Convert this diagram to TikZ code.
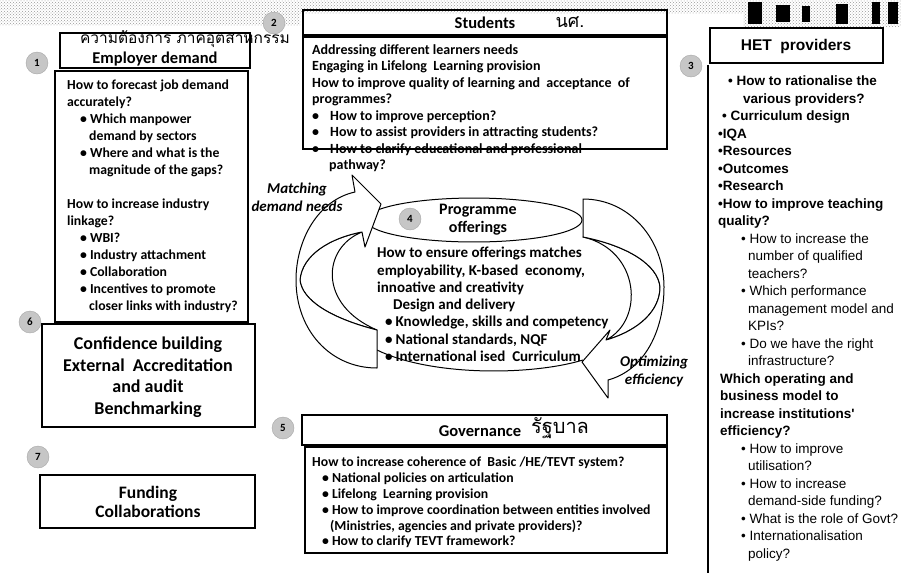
\documentclass[tikz,border=0pt]{standalone}
\usepackage{fontspec}
\setmainfont{Carlito}
\newfontfamily\hetfont{Liberation Sans}
\newfontfamily\thaifont[Script=Thai]{Loma}
\usetikzlibrary{patterns,shapes.geometric}

\tikzset{
  box/.style={draw, line width=1.1pt},
  hdr/.style={inner sep=0pt, font=\bfseries\fontsize{16.5}{18}\selectfont},
  txt/.style={anchor=north west, align=left, inner sep=0pt,
    font=\bfseries\fontsize{13.75}{17}\selectfont},
  hand/.style={inner sep=0pt, font=\thaifont\fontsize{18}{18}\selectfont},
  numc/.style={circle, draw=gray!70, fill=gray!45, minimum size=22pt, inner sep=0pt,
    font=\bfseries\fontsize{11}{11}\selectfont},
  bigtxt/.style={align=center, inner sep=0pt, font=\bfseries\fontsize{18}{21.5}\selectfont},
  cyc/.style={draw, line width=1pt, fill=white, line join=round},
  cyclbl/.style={align=center, inner sep=0pt, font=\bfseries\itshape\fontsize{15}{18}\selectfont},
}

\begin{document}
\begin{tikzpicture}[x=1pt,y=-1pt]
  \def\bl{\textbullet\hspace{3pt}}
  \useasboundingbox (0,0) rectangle (901,574);

  % scan noise on the top edge
  \fill[pattern=crosshatch dots, pattern color=gray!80] (0,0) rectangle (743,13);
  \fill[pattern=crosshatch dots, pattern color=gray!80] (0,13) rectangle (300,25);
  \fill[pattern=crosshatch dots, pattern color=gray!80] (743,0) rectangle (901,26);
  \fill (748,2) rectangle (762,24);
  \fill (776,5) rectangle (790,22);
  \fill (802,6) rectangle (810,22);
  \fill (836,4) rectangle (848,24);
  \fill (872,2) rectangle (880,24);
  \fill (888,2) rectangle (898,24);

  % Employer demand
  \draw[box] (60,33) rectangle (250,68);
  \draw[box] (55,71) rectangle (248,322);
  \node[hand, font=\thaifont\fontsize{15.5}{16}\selectfont] (empthai) at (185,39) {ความต้องการ ภาคอุตสาหกรรม};
  \node[hdr] (emphdr) at (155,59) {Employer demand};
  \node[txt] (emptxt) at (67,80) {How to forecast job demand\\
    accurately?\\
    \hspace*{13pt}\bl Which manpower\\
    \hspace*{22pt}demand by sectors\\
    \hspace*{13pt}\bl Where and what is the\\
    \hspace*{22pt}magnitude of the gaps?\\[17pt]
    How to increase industry\\
    linkage?\\
    \hspace*{13pt}\bl WBI?\\
    \hspace*{13pt}\bl Industry attachment\\
    \hspace*{13pt}\bl Collaboration\\
    \hspace*{13pt}\bl Incentives to promote\\
    \hspace*{22pt}closer links with industry?};

  % Confidence building, Funding
  \draw[box] (42,324) rectangle (255,427);
  \node[bigtxt] (conf) at (148,377) {Confidence building\\External\ \ Accreditation\\and audit\\Benchmarking};
  \draw[box] (40,475) rectangle (255,528);
  \node[bigtxt, font=\bfseries\fontsize{17.5}{19}\selectfont] (fund) at (148,502) {Funding\\Collaborations};

  % Students
  \draw[box] (303,10) rectangle (667,35);
  \draw[box] (303,37) rectangle (667,149);
  \node[hdr] (stuhdr) at (485,23) {Students};
  \node[hand] (stuthai) at (570,22) {นศ.};
  \node[txt, font=\bfseries\fontsize{14}{16.5}\selectfont] (stutxt) at (312,44) {Addressing different learners needs\\
    Engaging in Lifelong\ \ Learning provision\\
    How to improve quality of learning and\ \ acceptance\ \ of\\
    programmes?\\
    \textbullet\hspace{11pt}How to improve perception?\\
    \textbullet\hspace{11pt}How to assist providers in attracting students?\\
    \textbullet\hspace{11pt}How to clarify educational and professional\\
    \hspace*{17pt}pathway?};

  % HET providers
  \draw[box] (710,28) rectangle (883,63);
  \draw[box] (708,65) -- (708,573);
  \node[hdr, font=\hetfont\bfseries\fontsize{15.5}{18}\selectfont] (hethdr) at (796,46) {HET\ \ providers};
  \node[txt, font=\hetfont\bfseries\fontsize{13.5}{17.5}\selectfont] (hettxt) at (718,76) {\hspace*{10pt}\textbullet\ How to rationalise the\\
    \hspace*{25pt}various providers?\\
    \hspace*{4pt}\textbullet\ Curriculum design\\
    \textbullet IQA\\
    \textbullet Resources\\
    \textbullet Outcomes\\
    \textbullet Research\\
    \textbullet How to improve teaching\\
    quality?\\
    {\mdseries\hspace*{23pt}\textbullet\ How to increase the}\\
    {\mdseries\hspace*{30pt}number of qualified}\\
    {\mdseries\hspace*{30pt}teachers?}\\
    {\mdseries\hspace*{23pt}\textbullet\ Which performance}\\
    {\mdseries\hspace*{30pt}management model and}\\
    {\mdseries\hspace*{30pt}KPIs?}\\
    {\mdseries\hspace*{23pt}\textbullet\ Do we have the right}\\
    {\mdseries\hspace*{30pt}infrastructure?}\\
    \hspace*{2pt}Which operating and\\
    \hspace*{2pt}business model to\\
    \hspace*{2pt}increase institutions'\\
    \hspace*{2pt}efficiency?\\
    {\mdseries\hspace*{23pt}\textbullet\ How to improve}\\
    {\mdseries\hspace*{30pt}utilisation?}\\
    {\mdseries\hspace*{23pt}\textbullet\ How to increase}\\
    {\mdseries\hspace*{30pt}demand-side funding?}\\
    {\mdseries\hspace*{23pt}\textbullet\ What is the role of Govt?}\\
    {\mdseries\hspace*{23pt}\textbullet\ Internationalisation}\\
    {\mdseries\hspace*{30pt}policy?}};

  % Governance
  \draw[box] (302,415) rectangle (667,445);
  \draw[box] (305,447) rectangle (667,553);
  \node[hdr] (govhdr) at (480,431) {Governance};
  \node[hand, font=\thaifont\fontsize{20}{20}\selectfont] (govthai) at (560,428) {รัฐบาล};
  \node[txt, font=\bfseries\fontsize{13.75}{15.8}\selectfont] (govtxt) at (312,457) {How to increase coherence of\ \ Basic /HE/TEVT system?\\
    \hspace*{10pt}\bl National policies on articulation\\
    \hspace*{10pt}\bl Lifelong\ \ Learning provision\\
    \hspace*{10pt}\bl How to improve coordination between entities involved\\
    \hspace*{18pt}(Ministries, agencies and private providers)?\\
    \hspace*{10pt}\bl How to clarify TEVT framework?};

  % Programme offerings cycle
  \draw[line width=1pt] (377,350) .. controls (430,376) and (530,376) .. (583,360);
  \node[draw, ellipse, line width=1pt, minimum width=216pt, minimum height=38pt, inner sep=0pt,
    align=center, font=\bfseries\fontsize{16}{18}\selectfont] (prog) at (474,220) {\hspace*{8pt}Programme\\\hspace*{8pt}offerings};
  % left arrow
  \draw[cyc] (362,232) .. controls (322,248) and (318,305) .. (377,330)
    .. controls (330,318) and (302,300) .. (300,280)
    .. controls (302,255) and (330,238) .. (362,232) -- cycle;
  \draw[cyc] (377,330) .. controls (330,318) and (302,300) .. (300,280)
    .. controls (302,255) and (330,238) .. (362,232)
    -- (365,247) -- (381,204) -- (352,175) -- (355,192)
    .. controls (318,200) and (296,240) .. (296,280)
    .. controls (296,330) and (330,368) .. (377,368) -- cycle;
  % right arrow
  \draw[cyc] (606,340) .. controls (645,320) and (640,250) .. (583,237)
    .. controls (628,246) and (658,265) .. (660,287)
    .. controls (660,310) and (640,330) .. (606,340) -- cycle;
  \draw[cyc] (583,237) .. controls (628,246) and (658,265) .. (660,287)
    .. controls (660,310) and (640,330) .. (606,340)
    -- (610,330) -- (582,362) -- (608,398) -- (608,380)
    .. controls (645,370) and (664,330) .. (664,287)
    .. controls (664,240) and (630,199) .. (583,199) -- cycle;

  \node[txt, font=\bfseries\fontsize{15}{17.3}\selectfont] (progtxt) at (377,247) {How to ensure offerings matches\\
    employability, K-based\ \ economy,\\
    innoative and creativity\\
    \hspace*{16pt}Design and delivery\\
    \hspace*{8pt}\bl Knowledge, skills and competency\\
    \hspace*{8pt}\bl National standards, NQF\\
    \hspace*{8pt}\bl International ised\ \ Curriculum};
  \node[cyclbl] (match) at (297,197) {Matching\\demand needs};
  \node[cyclbl] (optim) at (654,371) {Optimizing\\efficiency};

  % numbers
  \node[numc] (n1) at (37,63) {1};
  \node[numc] (n2) at (274,23) {2};
  \node[numc] (n3) at (691,66) {3};
  \node[numc] (n4) at (410,219) {4};
  \node[numc] (n5) at (283,428) {5};
  \node[numc] (n6) at (30,322) {6};
  \node[numc] (n7) at (38,457) {7};
\end{tikzpicture}
\end{document}
